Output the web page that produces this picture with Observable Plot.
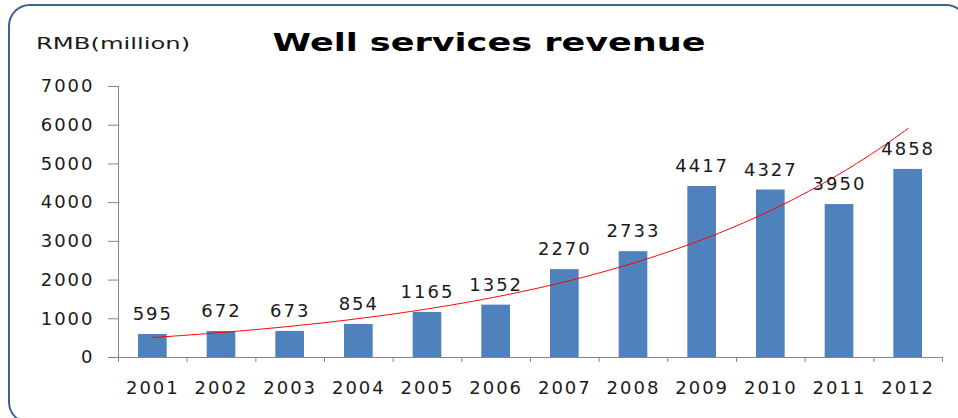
<!DOCTYPE html>
<html>
<head>
<meta charset="utf-8">
<script src="https://cdn.jsdelivr.net/npm/d3@7"></script>
<script src="https://cdn.jsdelivr.net/npm/@observablehq/plot@0.6"></script>
<style>
  html, body { margin: 0; padding: 0; background: #fff; }
  #wrap { position: relative; width: 958px; height: 418px; overflow: hidden; font-family: "DejaVu Sans", sans-serif; }
  #frame { position: absolute; left: 8px; top: 4px; width: 960px; height: 420px; border: 2px solid #3d6096; border-radius: 22px; box-sizing: border-box; }
  #title { position: absolute; left: 489px; top: 29px; transform: translateX(-50%) scaleX(1.46); font-weight: bold; font-size: 24px; color: #000; white-space: nowrap; }
  #unit { position: absolute; left: 36px; top: 34px; transform-origin: left center; transform: scaleX(1.47); font-size: 16.5px; color: #1a1a1a; white-space: nowrap; }
  #chart { position: absolute; left: 0; top: 0; }
  #chart svg text { letter-spacing: 2px; }
</style>
</head>
<body>
<div id="wrap">
  <div id="chart"></div>
  <div id="frame"></div>
  <div id="unit">RMB(million)</div>
  <div id="title">Well services revenue</div>
</div>
<script>
const years = ["2001","2002","2003","2004","2005","2006","2007","2008","2009","2010","2011","2012"];
const revenue = [595, 672, 673, 854, 1165, 1352, 2270, 2733, 4417, 4327, 3950, 4858];
const yTicks = [0, 1000, 2000, 3000, 4000, 5000, 6000, 7000];

const data = years.map((y, k) => ({i: k + 1, year: y, value: revenue[k]}));

// Exponential trendline (least squares on log values), like Excel's
const n = data.length;
const mt = d3.mean(data, d => d.i);
const ml = d3.mean(data, d => Math.log(d.value));
const b = d3.sum(data, d => (d.i - mt) * (Math.log(d.value) - ml)) / d3.sum(data, d => (d.i - mt) ** 2);
const a = Math.exp(ml - b * mt);
const trend = d3.range(1, n + 0.001, 0.05).map(t => ({t, v: a * Math.exp(b * t)}));

const bounds = d3.range(0.5, n + 1, 1);

const chart = Plot.plot({
  width: 958,
  height: 418,
  marginLeft: 118,
  marginRight: 16,
  marginTop: 86,
  marginBottom: 61,
  style: {fontFamily: "DejaVu Sans, sans-serif", fontSize: "18px", color: "#1a1a1a", background: "transparent"},
  x: {domain: [0.5, n + 0.5]},
  y: {domain: [0, 7000]},
  marks: [
    Plot.rectY(data, {x1: d => d.i - 0.5, x2: d => d.i + 0.5, y: "value", fill: "#4f81bd", insetLeft: 20, insetRight: 20}),
    Plot.ruleX([0.5], {stroke: "#868686"}),
    Plot.ruleY([0], {stroke: "#868686"}),
    Plot.axisY({ticks: yTicks, tickSize: 10, tickPadding: 14, stroke: "#868686", strokeOpacity: 1, label: null, tickFormat: d => String(d)}),
    Plot.axisX({ticks: bounds, tickSize: 5, stroke: "#868686", strokeOpacity: 1, tickFormat: () => "", label: null}),
    Plot.axisX({ticks: data.map(d => d.i), tickSize: 0, tickPadding: 24, tickFormat: i => years[i - 1], label: null}),
    Plot.line(trend, {x: "t", y: "v", stroke: "#ff0000", strokeWidth: 1}),
    Plot.text(data, {x: "i", y: "value", text: d => String(d.value), dy: -20, fontSize: 18, fill: "#1a1a1a"})
  ]
});
document.getElementById("chart").appendChild(chart);
</script>
</body>
</html>
